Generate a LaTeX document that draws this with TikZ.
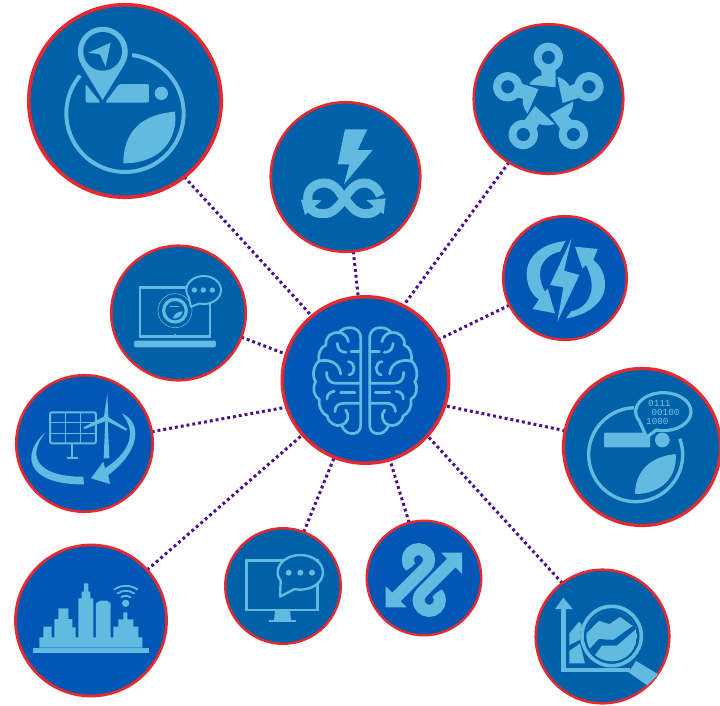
\documentclass[tikz,border=0pt]{standalone}
\usepackage{fontspec}
\newfontfamily\bitsfont{Liberation Mono}
\usetikzlibrary{backgrounds}
\definecolor{deepblue}{HTML}{0060A8}
\definecolor{richblue}{HTML}{0058B4}
\definecolor{lite}{HTML}{62BAE0}
\definecolor{ringred}{HTML}{E42A30}
\definecolor{linkpurple}{HTML}{4B0E8E}
\tikzset{
  disc/.style={circle,draw=ringred,inner sep=0pt,outer sep=0pt},
  linkline/.style={draw=linkpurple,line width=3pt,dash pattern=on 2.9pt off 3pt},
  zoomat/.style={shift={(#1)},x=0.33333pt,y=-0.33333pt},
  brainline/.style={draw=lite,line width=2.7pt,fill=none,line cap=round,line join=round},
  bits/.style={text=lite!85!white,font=\bitsfont\fontsize{9.3}{9.5}\selectfont,inner sep=0pt,anchor=west}
}
\newcommand{\hubspoke}[1]{%
  \begin{scope}[shift={(250,255)},rotate=#1]
    \fill[lite,even odd rule] (0,-128) circle[radius=44] (0,-128) circle[radius=20];
    \fill[lite] (-58,-47) .. controls (-48,-62) and (-36,-70) .. (-20,-74) -- (-22,-95) -- (22,-95) -- (22,-76) -- (22,-38) -- cycle;
  \end{scope}}
\newcommand{\brainhalf}{%
  \draw[brainline] (257,145) .. controls (257,120) and (240,113) .. (225,113) .. controls (210,113) and (200,118) .. (192,128)
     .. controls (170,125) and (150,140) .. (153,165) .. controls (135,172) and (128,195) .. (132,213)
     .. controls (115,225) and (110,260) .. (122,275) .. controls (110,295) and (118,320) .. (133,328)
     .. controls (130,350) and (140,370) .. (157,378) .. controls (160,400) and (185,412) .. (200,405)
     .. controls (205,425) and (225,435) .. (240,430) .. controls (252,427) and (257,415) .. (257,405) -- cycle;
  \draw[brainline] (132,213) .. controls (170,205) and (195,225) .. (197,252);
  \draw[brainline] (155,247) .. controls (155,270) and (165,280) .. (185,280) -- (257,280);
  \draw[brainline] (228,185) -- (257,185);
  \draw[brainline] (187,160) .. controls (187,175) and (195,187) .. (213,187);
  \draw[brainline] (192,128) .. controls (205,128) and (218,140) .. (220,155);
  \draw[brainline] (220,215) .. controls (240,215) and (245,250) .. (222,255);
  \draw[brainline] (197,307) -- (240,307);
  \draw[brainline] (156,327) .. controls (156,312) and (165,305) .. (178,304);
  \draw[brainline] (180,365) .. controls (180,348) and (190,340) .. (205,340) -- (257,340);
  \draw[brainline] (212,360) .. controls (225,375) and (220,398) .. (200,405);}
\newcommand{\bandloop}{%
  \draw[lite,line width=12pt] (525,250) -- (618,157) arc[start angle=45,end angle=-225,radius=32];
  \fill[lite] (497,213) -- (497,277) -- (560,277) -- cycle;
  \draw[richblue,line width=0.8pt] (595,135) -- (565,172);
  \fill[richblue] (595,135) circle[radius=10];}
\begin{document}
\begin{tikzpicture}[x=1pt,y=-1pt]
\useasboundingbox (0,0) rectangle (720,705);
\clip (0,0) rectangle (720,705);
% discs
\node[disc,line width=3.6pt,fill=deepblue,minimum size=192.5pt] (mapleaf) at (125,101) {};
\node[disc,line width=2.6pt,fill=deepblue,minimum size=149.5pt] (boltloop) at (345.5,177) {};
\node[disc,line width=2.6pt,fill=deepblue,minimum size=149.5pt] (network) at (548.5,99) {};
\node[disc,line width=2.6pt,fill=richblue,minimum size=123.5pt] (cycle) at (565,278) {};
\node[disc,line width=3.2pt,fill=deepblue,minimum size=157pt] (dataleaf) at (642,447) {};
\node[disc,line width=3.4pt,fill=richblue,minimum size=166.5pt] (brain) at (365.5,380) {};
\node[disc,line width=2.6pt,fill=deepblue,minimum size=134.5pt] (laptop) at (178.5,313) {};
\node[disc,line width=2.6pt,fill=richblue,minimum size=136.5pt] (solar) at (84.5,443.5) {};
\node[disc,line width=2.8pt,fill=richblue,minimum size=151pt] (city) at (91,620.5) {};
\node[disc,line width=2.4pt,fill=deepblue,minimum size=115.5pt] (monitor) at (283,586) {};
\node[disc,line width=2.4pt,fill=richblue,minimum size=114.5pt] (swirl) at (424,578) {};
\node[disc,line width=2.6pt,fill=deepblue,minimum size=133.5pt] (chart) at (602.5,636.5) {};
% connectors
\begin{scope}[on background layer]
\draw[linkline] (mapleaf.-52) -- (brain.130);
\draw[linkline] (boltloop.-84) -- (brain.95);
\draw[linkline] (network.-122) -- (brain.63);
\draw[linkline] (cycle.206) -- (brain.29);
\draw[linkline] (dataleaf.168) -- (brain.-18);
\draw[linkline] (laptop.-21) -- (brain.162);
\draw[linkline] (solar.10) -- (brain.199);
\draw[linkline] (city.42) -- (brain.221);
\draw[linkline] (monitor.69) -- (brain.248);
\draw[linkline] (swirl.105) -- (brain.-73);
\draw[linkline] (chart.127) -- (brain.-42);
\end{scope}
% icon: map leaf
\begin{scope}[zoomat={20,0}]
  \draw[lite,line width=4pt] (315,340) ++(-83:176) arc[start angle=-83,end angle=220,radius=176];
  \fill[lite,rounded corners=2pt] (197,252) -- (242,308) -- (197,308) -- cycle;
  \fill[lite,rounded corners=2pt] (255,308) -- (297,252) -- (387,252) -- (387,308) -- cycle;
  \fill[lite] (424,280) circle[radius=20];
  \fill[lite] (465,335) .. controls (340,345) and (310,420) .. (310,490) .. controls (420,490) and (475,420) .. (465,335) -- cycle;
  \fill[lite] (184,195) -- (248,300) -- (312,195) arc[start angle=32,end angle=-212,radius=75] -- cycle;
  \fill[deepblue] (248,154) circle[radius=58];
  \fill[lite] (205,158) -- (272,128) -- (257,200) -- (240,163) -- cycle;
\end{scope}
% icon: bolt and loop
\begin{scope}[zoomat={265,95}]
  \fill[lite] (240,103) -- (307,103) -- (278,165) -- (323,165) -- (237,268) -- (253,208) -- (218,208) -- cycle;
  \draw[lite,line width=9pt] (130,322) .. controls (120,285) and (150,264) .. (178,264) .. controls (215,264) and (225,300) .. (240,312) .. controls (255,330) and (270,356) .. (302,356) .. controls (320,356) and (335,350) .. (340,335);
  \draw[lite,line width=9pt] (346,302) .. controls (335,277) and (320,264) .. (297,264) .. controls (265,264) and (250,295) .. (237,312) .. controls (220,335) and (205,356) .. (175,356) .. controls (155,356) and (140,350) .. (135,335);
  \fill[lite] (108,314) -- (170,316) -- (120,360) -- cycle;
  \fill[lite] (305,316) -- (362,310) -- (356,358) -- cycle;
\end{scope}
% icon: network
\begin{scope}[zoomat={465,15}]
  \hubspoke{0}\hubspoke{-72}\hubspoke{-144}\hubspoke{-216}\hubspoke{-288}
  \fill[deepblue] (250,255) circle[radius=38];
\end{scope}
% icon: cycle and bolt
\begin{scope}[zoomat={495,210}]
  \fill[lite] (212,93) .. controls (140,100) and (95,140) .. (95,192) .. controls (95,225) and (110,255) .. (132,268) -- (113,297) -- (180,310) -- (158,235) -- (150,245) .. controls (142,230) and (135,215) .. (135,190) .. controls (135,155) and (165,130) .. (195,125) -- cycle;
  \fill[lite] (213,325) .. controls (280,315) and (330,275) .. (330,225) .. controls (330,190) and (315,165) .. (295,150) -- (308,117) -- (240,110) -- (262,175) -- (273,165) .. controls (285,190) and (290,205) .. (290,230) .. controls (290,270) and (260,300) .. (230,303) -- cycle;
  \fill[lite] (230,85) -- (207,182) -- (253,195) -- (187,335) -- (205,232) -- (165,225) -- cycle;
\end{scope}
% icon: data leaf
\begin{scope}[zoomat={555,360}]
  \draw[lite,line width=3.4pt] (242,284) ++(-20:141) arc[start angle=-20,end angle=268,radius=141];
  \fill[lite,rounded corners=1pt] (147,218) rectangle (285,262);
  \fill[lite] (322,240) circle[radius=22];
  \fill[lite] (362,282) .. controls (280,290) and (240,340) .. (240,402) .. controls (320,402) and (368,350) .. (362,282) -- cycle;
  \draw[lite,fill=deepblue,line width=3.2pt,line join=round] (325,155) ++(105:83 and 57) arc[start angle=105,end angle=-210,x radius=83,y radius=57] -- (275,232) -- cycle;
  \node[bits] (bitsa) at (279,131) {0111};
  \node[bits] (bitsb) at (289,158) {00100};
  \node[bits] (bitsc) at (273,185) {1000};
\end{scope}
% icon: brain
\begin{scope}[zoomat={275,290}]
  \brainhalf
  \begin{scope}[shift={(541,0)},xscale=-1]
    \brainhalf
  \end{scope}
\end{scope}
% icon: laptop
\begin{scope}[zoomat={105,240}]
  \draw[lite,line width=2.4pt] (105,142) rectangle (315,290);
  \fill[lite,rounded corners=1.5pt] (87,302) rectangle (333,322);
  \fill[lite] (210,284) circle[radius=3];
  \draw[lite,fill=deepblue,line width=0.6pt] (210,212) circle[radius=51];
  \draw[lite,line width=3.2pt,fill=deepblue] (210,212) circle[radius=34];
  \draw[lite,line width=1.2pt] (196,200) -- (222,200);
  \fill[lite] (204,236) .. controls (206,222) and (218,214) .. (233,214) .. controls (232,226) and (218,238) .. (204,236) -- cycle;
  \draw[lite,fill=deepblue,line width=2pt,line join=round] (296,150) ++(105:52 and 42) arc[start angle=105,end angle=-210,x radius=52,y radius=42] -- (258,200) -- cycle;
  \fill[lite] (268,150) circle[radius=8] (295,150) circle[radius=8] (322,150) circle[radius=8];
\end{scope}
% icon: solar and wind
\begin{scope}[zoomat={10,370}]
  \draw[lite,line width=2pt,rounded corners=2pt] (120,127) rectangle (258,220);
  \draw[lite,line width=1.6pt] (167,127) -- (167,220) (212,127) -- (212,220) (120,158) -- (258,158) (120,190) -- (258,190);
  \draw[lite,line width=2.2pt] (187,220) -- (187,265) (170,265) -- (205,265);
  \fill[lite] (281,265) -- (298,265) -- (293,150) -- (286,150) -- cycle;
  \fill[lite] (292,70) -- (295,140) -- (282,140) -- cycle;
  \fill[lite] (285,138) -- (290,152) -- (225,177) -- (220,172) -- cycle;
  \fill[lite] (292,140) -- (352,177) -- (348,182) -- (285,150) -- cycle;
  \fill[lite] (288,144) circle[radius=8];
  \fill[lite] (335,130) .. controls (395,155) and (395,240) .. (295,315) -- (300,342) -- (243,325) -- (280,275) -- (285,295) .. controls (355,250) and (385,190) .. (335,130) -- cycle;
  \fill[lite] (107,187) .. controls (35,245) and (40,345) .. (222,343) -- (220,320) .. controls (100,322) and (40,270) .. (107,187) -- cycle;
\end{scope}
% icon: city
\begin{scope}[zoomat={10,540}]
  \fill[lite] (68,323) rectangle (418,338);
  \fill[lite] (88,323) -- (88,292) -- (100,292) -- (100,260) -- (125,260) -- (125,292) -- (133,292) -- (133,237) -- (145,237) -- (145,205) -- (175,205) -- (175,237) -- (187,237) -- (187,262) -- (197,262) -- (197,292) -- (205,292) -- (205,175) -- (215,175) -- (215,155) -- (222,155) -- (222,130) -- (235,130) -- (235,155) -- (241,155) -- (241,175) -- (250,175) -- (250,292) -- (258,292) -- (258,190) -- (270,182) -- (290,182) -- (302,190) -- (302,292) -- (310,292) -- (310,260) -- (325,260) -- (325,238) -- (340,238) -- (340,217) -- (352,217) -- (352,238) -- (370,238) -- (370,260) -- (385,260) -- (385,292) -- (397,292) -- (397,323) -- cycle;
  \fill[lite] (347,190) circle[radius=11];
  \draw[lite,line width=1.8pt,line cap=round] (313,148) .. controls (335,134) and (360,134) .. (382,148);
  \draw[lite,line width=1.8pt,line cap=round] (323,160) .. controls (338,150) and (357,150) .. (372,160);
  \draw[lite,line width=1.8pt,line cap=round] (334,172) .. controls (342,166) and (353,166) .. (361,172);
\end{scope}
% icon: monitor
\begin{scope}[zoomat={220,515}]
  \draw[lite,line width=2.4pt] (80,137) rectangle (293,285);
  \fill[lite] (165,285) -- (210,285) -- (213,316) -- (162,316) -- cycle;
  \draw[lite,line width=2pt] (147,318) -- (228,318);
  \draw[lite,fill=deepblue,line width=2.4pt,line join=round] (241,172) ++(105:68 and 52) arc[start angle=105,end angle=-210,x radius=68,y radius=52] -- (180,245) -- cycle;
  \fill[lite] (206,173) circle[radius=9] (241,173) circle[radius=9] (276,173) circle[radius=9];
\end{scope}
% icon: swirl arrows
\begin{scope}[zoomat={220,515}]
  \bandloop
  \begin{scope}[rotate around={180:(611.5,195)}]
    \bandloop
  \end{scope}
\end{scope}
% icon: chart and lens
\begin{scope}[zoomat={530,565}]
  \draw[lite,line width=4.6pt] (100,130) -- (100,315) -- (300,315);
  \fill[lite] (75,132) -- (100,98) -- (128,132) -- cycle;
  \fill[lite] (118,205) -- (147,170) -- (155,178) -- (155,222) -- (118,240) -- cycle;
  \fill[lite] (118,258) -- (150,235) -- (165,295) -- (118,295) -- cycle;
  \fill[lite] (318,288) -- (385,328) -- (352,361) -- (296,322) -- cycle;
  \fill[deepblue] (245,213) circle[radius=94];
  \draw[lite,line width=3.6pt] (245,213) circle[radius=89];
  \begin{scope}
    \clip (245,213) circle[radius=76];
    \fill[lite] (245,213) circle[radius=76];
    \fill[deepblue] (160,130) -- (330,130) -- (330,190) -- (305,180) -- (270,155) -- (238,177) -- (207,167) -- (172,202) -- (160,215) -- cycle;
    \fill[deepblue] (160,272) -- (207,222) -- (250,225) -- (308,183) -- (330,170) -- (330,180) -- (312,197) -- (260,242) -- (215,242) -- (195,270) -- (160,300) -- cycle;
  \end{scope}
\end{scope}
\end{tikzpicture}
\end{document}
